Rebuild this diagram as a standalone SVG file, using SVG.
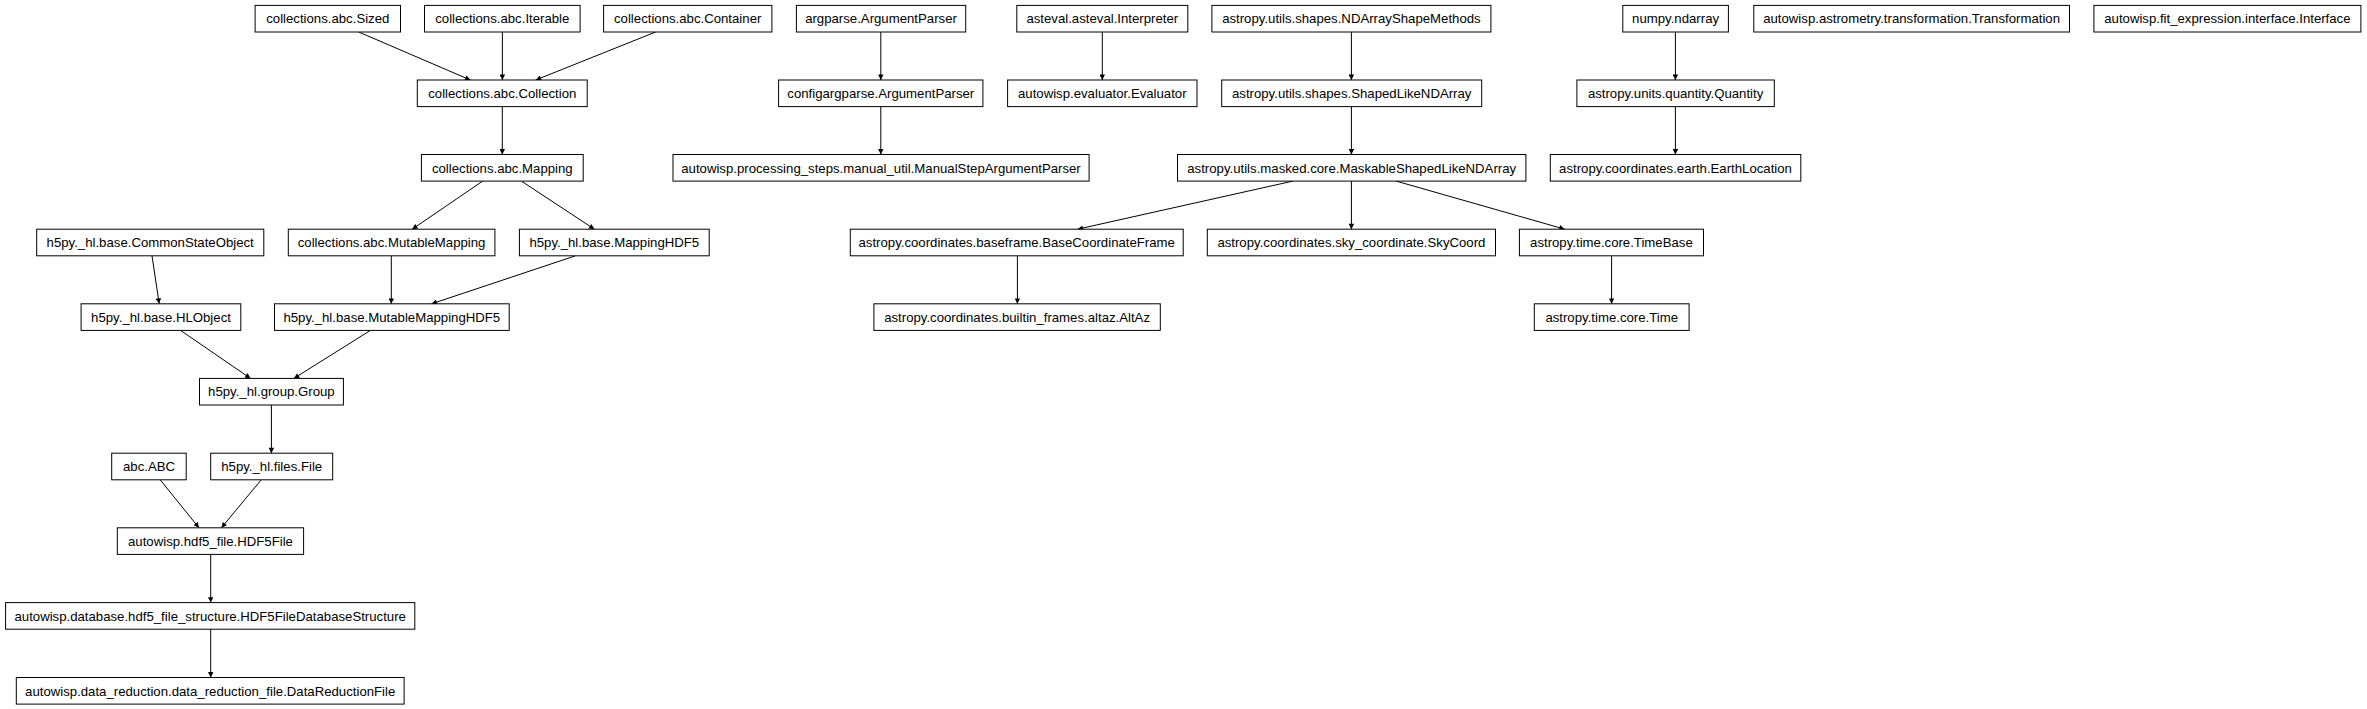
<svg xmlns="http://www.w3.org/2000/svg" width="2367" height="709" viewBox="0 0 2367 709">
<style>
.n rect{fill:#fff;stroke:#000;stroke-width:1}
.n text{font-family:"Liberation Sans",Arial,sans-serif;font-size:13.2px;text-anchor:middle;fill:#000}
#edges line{stroke:#000;stroke-width:1;marker-end:url(#ah)}
</style>
<defs>
<marker id="ah" viewBox="0 0 10 10" refX="10" refY="5" markerWidth="7.5" markerHeight="5.4" markerUnits="userSpaceOnUse" orient="auto">
<path d="M0,0 L10,5 L0,10 z" fill="#000"/>
</marker>
</defs>
<rect width="2367" height="709" fill="#fff"/>
<g id="edges">
<line x1="358.7" y1="32" x2="470.4" y2="80"/>
<line x1="502.4" y1="32" x2="502.4" y2="80"/>
<line x1="655.6" y1="32" x2="535.7" y2="80"/>
<line x1="502.3" y1="106.6" x2="502.3" y2="154.5"/>
<line x1="482.7" y1="181.1" x2="412.2" y2="229.2"/>
<line x1="521.4" y1="181.1" x2="594.4" y2="229.2"/>
<line x1="152" y1="255.8" x2="159.2" y2="303.8"/>
<line x1="391.3" y1="255.8" x2="391.3" y2="303.8"/>
<line x1="575.5" y1="255.8" x2="431.6" y2="303.8"/>
<line x1="180.6" y1="330.4" x2="250.5" y2="378.4"/>
<line x1="370.4" y1="330.4" x2="293.9" y2="378.4"/>
<line x1="271.4" y1="405" x2="271.4" y2="453.2"/>
<line x1="160.2" y1="479.8" x2="199" y2="527.8"/>
<line x1="261.2" y1="479.8" x2="221.4" y2="527.8"/>
<line x1="210.7" y1="554.4" x2="210.7" y2="602.6"/>
<line x1="210.7" y1="629.2" x2="210.7" y2="677.5"/>
<line x1="880.8" y1="32" x2="880.8" y2="80"/>
<line x1="880.8" y1="106.6" x2="880.8" y2="154.5"/>
<line x1="1102.3" y1="32" x2="1102.3" y2="80"/>
<line x1="1351.4" y1="32" x2="1351.4" y2="80"/>
<line x1="1351.4" y1="106.6" x2="1351.4" y2="154.5"/>
<line x1="1292.9" y1="181.1" x2="1077.6" y2="229.2"/>
<line x1="1351.4" y1="181.1" x2="1351.4" y2="229.2"/>
<line x1="1396.2" y1="181.1" x2="1564.7" y2="229.2"/>
<line x1="1017.4" y1="255.8" x2="1017.4" y2="303.8"/>
<line x1="1675.4" y1="32" x2="1675.4" y2="80"/>
<line x1="1675.4" y1="106.6" x2="1675.4" y2="154.5"/>
<line x1="1611.6" y1="255.8" x2="1611.6" y2="303.8"/>
</g>
<g id="n_sized" class="n"><rect x="255.1" y="5.4" width="145.4" height="26.6"/><text x="327.8" y="23.4">collections.abc.Sized</text></g>
<g id="n_iterable" class="n"><rect x="424.5" y="5.4" width="155.6" height="26.6"/><text x="502.3" y="23.4">collections.abc.Iterable</text></g>
<g id="n_container" class="n"><rect x="603.6" y="5.4" width="168.3" height="26.6"/><text x="687.7" y="23.4">collections.abc.Container</text></g>
<g id="n_argparse" class="n"><rect x="796.4" y="5.4" width="169.3" height="26.6"/><text x="881" y="23.4">argparse.ArgumentParser</text></g>
<g id="n_interpreter" class="n"><rect x="1016.8" y="5.4" width="171" height="26.6"/><text x="1102.3" y="23.4">asteval.asteval.Interpreter</text></g>
<g id="n_ndshape" class="n"><rect x="1211.9" y="5.4" width="279" height="26.6"/><text x="1351.4" y="23.4">astropy.utils.shapes.NDArrayShapeMethods</text></g>
<g id="n_ndarray" class="n"><rect x="1622.8" y="5.4" width="105.6" height="26.6"/><text x="1675.6" y="23.4">numpy.ndarray</text></g>
<g id="n_transformation" class="n"><rect x="1753.8" y="5.4" width="315.7" height="26.6"/><text x="1911.6" y="23.4">autowisp.astrometry.transformation.Transformation</text></g>
<g id="n_interface" class="n"><rect x="2093.9" y="5.4" width="267" height="26.6"/><text x="2227.4" y="23.4">autowisp.fit_expression.interface.Interface</text></g>
<g id="n_collection" class="n"><rect x="417.3" y="80" width="169.9" height="26.6"/><text x="502.3" y="98">collections.abc.Collection</text></g>
<g id="n_configargparse" class="n"><rect x="778.6" y="80" width="204.3" height="26.6"/><text x="880.8" y="98">configargparse.ArgumentParser</text></g>
<g id="n_evaluator" class="n"><rect x="1007.6" y="80" width="189.4" height="26.6"/><text x="1102.3" y="98">autowisp.evaluator.Evaluator</text></g>
<g id="n_shapedlike" class="n"><rect x="1221.7" y="80" width="260" height="26.6"/><text x="1351.7" y="98">astropy.utils.shapes.ShapedLikeNDArray</text></g>
<g id="n_quantity" class="n"><rect x="1576.9" y="80" width="197.4" height="26.6"/><text x="1675.6" y="98">astropy.units.quantity.Quantity</text></g>
<g id="n_mapping" class="n"><rect x="421.4" y="154.5" width="161.8" height="26.6"/><text x="502.3" y="172.5">collections.abc.Mapping</text></g>
<g id="n_manual" class="n"><rect x="673" y="154.5" width="416.1" height="26.6"/><text x="881" y="172.5">autowisp.processing_steps.manual_util.ManualStepArgumentParser</text></g>
<g id="n_maskable" class="n"><rect x="1177.5" y="154.5" width="348.4" height="26.6"/><text x="1351.7" y="172.5">astropy.utils.masked.core.MaskableShapedLikeNDArray</text></g>
<g id="n_earth" class="n"><rect x="1550.3" y="154.5" width="250.5" height="26.6"/><text x="1675.5" y="172.5">astropy.coordinates.earth.EarthLocation</text></g>
<g id="n_commonstate" class="n"><rect x="36.7" y="229.2" width="227.1" height="26.6"/><text x="150.2" y="247.2">h5py._hl.base.CommonStateObject</text></g>
<g id="n_mutablemapping" class="n"><rect x="288.3" y="229.2" width="206.6" height="26.6"/><text x="391.6" y="247.2">collections.abc.MutableMapping</text></g>
<g id="n_mappinghdf5" class="n"><rect x="519.4" y="229.2" width="189.8" height="26.6"/><text x="614.3" y="247.2">h5py._hl.base.MappingHDF5</text></g>
<g id="n_basecoord" class="n"><rect x="850.3" y="229.2" width="332.9" height="26.6"/><text x="1016.7" y="247.2">astropy.coordinates.baseframe.BaseCoordinateFrame</text></g>
<g id="n_skycoord" class="n"><rect x="1207.3" y="229.2" width="288.2" height="26.6"/><text x="1351.4" y="247.2">astropy.coordinates.sky_coordinate.SkyCoord</text></g>
<g id="n_timebase" class="n"><rect x="1519.4" y="229.2" width="184.1" height="26.6"/><text x="1611.4" y="247.2">astropy.time.core.TimeBase</text></g>
<g id="n_hlobject" class="n"><rect x="81.1" y="303.8" width="159.7" height="26.6"/><text x="161" y="321.8">h5py._hl.base.HLObject</text></g>
<g id="n_mutablemappinghdf5" class="n"><rect x="274.5" y="303.8" width="234.7" height="26.6"/><text x="391.8" y="321.8">h5py._hl.base.MutableMappingHDF5</text></g>
<g id="n_altaz" class="n"><rect x="873.9" y="303.8" width="286.4" height="26.6"/><text x="1017.1" y="321.8">astropy.coordinates.builtin_frames.altaz.AltAz</text></g>
<g id="n_time" class="n"><rect x="1534.3" y="303.8" width="154.8" height="26.6"/><text x="1611.7" y="321.8">astropy.time.core.Time</text></g>
<g id="n_group" class="n"><rect x="199.5" y="378.4" width="143.9" height="26.6"/><text x="271.4" y="396.4">h5py._hl.group.Group</text></g>
<g id="n_abc" class="n"><rect x="111.7" y="453.2" width="74.5" height="26.6"/><text x="149" y="471.2">abc.ABC</text></g>
<g id="n_file" class="n"><rect x="210.7" y="453.2" width="122" height="26.6"/><text x="271.7" y="471.2">h5py._hl.files.File</text></g>
<g id="n_hdf5file" class="n"><rect x="117.3" y="527.8" width="186.3" height="26.6"/><text x="210.5" y="545.8">autowisp.hdf5_file.HDF5File</text></g>
<g id="n_dbstructure" class="n"><rect x="5.6" y="602.6" width="409.2" height="26.6"/><text x="210.2" y="620.6">autowisp.database.hdf5_file_structure.HDF5FileDatabaseStructure</text></g>
<g id="n_drf" class="n"><rect x="16.3" y="677.5" width="387.8" height="26.6"/><text x="210.2" y="695.5">autowisp.data_reduction.data_reduction_file.DataReductionFile</text></g>
</svg>
